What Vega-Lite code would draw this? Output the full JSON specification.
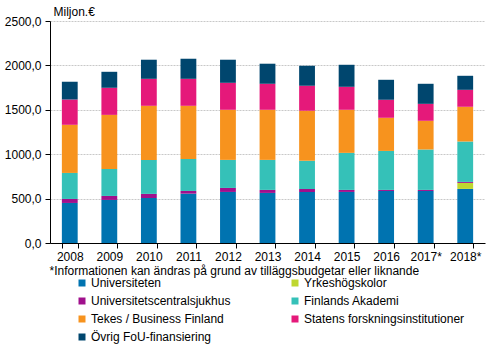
{
  "$schema": "https://vega.github.io/schema/vega-lite/v6.json",
  "width": 435,
  "height": 222,
  "padding": {"left": 50, "top": 21, "right": 7, "bottom": 108},
  "autosize": {"type": "none"},
  "config": {
    "font": "Liberation Sans",
    "view": {"stroke": null},
    "axis": {"labelFont": "Liberation Sans", "labelFontSize": 12, "labelColor": "#000", "titleFont": "Liberation Sans", "titleFontSize": 12, "titleFontWeight": "normal", "titleColor": "#000"},
    "legend": {"labelFont": "Liberation Sans", "labelFontSize": 12, "labelColor": "#000"}
  },
  "data": {"values": [
    {"year": "2008", "cat": "Universiteten", "v": 451},
    {"year": "2008", "cat": "Yrkeshögskolor", "v": 0},
    {"year": "2008", "cat": "Universitetscentralsjukhus", "v": 45},
    {"year": "2008", "cat": "Finlands Akademi", "v": 293},
    {"year": "2008", "cat": "Tekes / Business Finland", "v": 542},
    {"year": "2008", "cat": "Statens forskningsinstitutioner", "v": 285},
    {"year": "2008", "cat": "Övrig FoU-finansiering", "v": 200},
    {"year": "2009", "cat": "Universiteten", "v": 485},
    {"year": "2009", "cat": "Yrkeshögskolor", "v": 0},
    {"year": "2009", "cat": "Universitetscentralsjukhus", "v": 45},
    {"year": "2009", "cat": "Finlands Akademi", "v": 304},
    {"year": "2009", "cat": "Tekes / Business Finland", "v": 609},
    {"year": "2009", "cat": "Statens forskningsinstitutioner", "v": 305},
    {"year": "2009", "cat": "Övrig FoU-finansiering", "v": 180},
    {"year": "2010", "cat": "Universiteten", "v": 507},
    {"year": "2010", "cat": "Yrkeshögskolor", "v": 0},
    {"year": "2010", "cat": "Universitetscentralsjukhus", "v": 46},
    {"year": "2010", "cat": "Finlands Akademi", "v": 383},
    {"year": "2010", "cat": "Tekes / Business Finland", "v": 609},
    {"year": "2010", "cat": "Statens forskningsinstitutioner", "v": 304},
    {"year": "2010", "cat": "Övrig FoU-finansiering", "v": 215},
    {"year": "2011", "cat": "Universiteten", "v": 556},
    {"year": "2011", "cat": "Yrkeshögskolor", "v": 0},
    {"year": "2011", "cat": "Universitetscentralsjukhus", "v": 30},
    {"year": "2011", "cat": "Finlands Akademi", "v": 361},
    {"year": "2011", "cat": "Tekes / Business Finland", "v": 598},
    {"year": "2011", "cat": "Statens forskningsinstitutioner", "v": 304},
    {"year": "2011", "cat": "Övrig FoU-finansiering", "v": 226},
    {"year": "2012", "cat": "Universiteten", "v": 575},
    {"year": "2012", "cat": "Yrkeshögskolor", "v": 0},
    {"year": "2012", "cat": "Universitetscentralsjukhus", "v": 45},
    {"year": "2012", "cat": "Finlands Akademi", "v": 316},
    {"year": "2012", "cat": "Tekes / Business Finland", "v": 564},
    {"year": "2012", "cat": "Statens forskningsinstitutioner", "v": 304},
    {"year": "2012", "cat": "Övrig FoU-finansiering", "v": 260},
    {"year": "2013", "cat": "Universiteten", "v": 564},
    {"year": "2013", "cat": "Yrkeshögskolor", "v": 0},
    {"year": "2013", "cat": "Universitetscentralsjukhus", "v": 34},
    {"year": "2013", "cat": "Finlands Akademi", "v": 338},
    {"year": "2013", "cat": "Tekes / Business Finland", "v": 564},
    {"year": "2013", "cat": "Statens forskningsinstitutioner", "v": 293},
    {"year": "2013", "cat": "Övrig FoU-finansiering", "v": 226},
    {"year": "2014", "cat": "Universiteten", "v": 575},
    {"year": "2014", "cat": "Yrkeshögskolor", "v": 0},
    {"year": "2014", "cat": "Universitetscentralsjukhus", "v": 34},
    {"year": "2014", "cat": "Finlands Akademi", "v": 316},
    {"year": "2014", "cat": "Tekes / Business Finland", "v": 564},
    {"year": "2014", "cat": "Statens forskningsinstitutioner", "v": 281},
    {"year": "2014", "cat": "Övrig FoU-finansiering", "v": 226},
    {"year": "2015", "cat": "Universiteten", "v": 575},
    {"year": "2015", "cat": "Yrkeshögskolor", "v": 0},
    {"year": "2015", "cat": "Universitetscentralsjukhus", "v": 23},
    {"year": "2015", "cat": "Finlands Akademi", "v": 417},
    {"year": "2015", "cat": "Tekes / Business Finland", "v": 485},
    {"year": "2015", "cat": "Statens forskningsinstitutioner", "v": 259},
    {"year": "2015", "cat": "Övrig FoU-finansiering", "v": 248},
    {"year": "2016", "cat": "Universiteten", "v": 586},
    {"year": "2016", "cat": "Yrkeshögskolor", "v": 0},
    {"year": "2016", "cat": "Universitetscentralsjukhus", "v": 12},
    {"year": "2016", "cat": "Finlands Akademi", "v": 439},
    {"year": "2016", "cat": "Tekes / Business Finland", "v": 373},
    {"year": "2016", "cat": "Statens forskningsinstitutioner", "v": 203},
    {"year": "2016", "cat": "Övrig FoU-finansiering", "v": 225},
    {"year": "2017*", "cat": "Universiteten", "v": 586},
    {"year": "2017*", "cat": "Yrkeshögskolor", "v": 0},
    {"year": "2017*", "cat": "Universitetscentralsjukhus", "v": 12},
    {"year": "2017*", "cat": "Finlands Akademi", "v": 455},
    {"year": "2017*", "cat": "Tekes / Business Finland", "v": 323},
    {"year": "2017*", "cat": "Statens forskningsinstitutioner", "v": 191},
    {"year": "2017*", "cat": "Övrig FoU-finansiering", "v": 226},
    {"year": "2018*", "cat": "Universiteten", "v": 609},
    {"year": "2018*", "cat": "Yrkeshögskolor", "v": 68},
    {"year": "2018*", "cat": "Universitetscentralsjukhus", "v": 11},
    {"year": "2018*", "cat": "Finlands Akademi", "v": 455},
    {"year": "2018*", "cat": "Tekes / Business Finland", "v": 391},
    {"year": "2018*", "cat": "Statens forskningsinstitutioner", "v": 191},
    {"year": "2018*", "cat": "Övrig FoU-finansiering", "v": 158}
  ]},
  "transform": [
    {"calculate": "indexof(['Universiteten','Yrkeshögskolor','Universitetscentralsjukhus','Finlands Akademi','Tekes / Business Finland','Statens forskningsinstitutioner','Övrig FoU-finansiering'], datum.cat)", "as": "ord"}
  ],
  "mark": {"type": "bar"},
  "encoding": {
    "x": {
      "field": "year", "type": "nominal", "sort": null,
      "scale": {"paddingInner": 0.6, "paddingOuter": 0.3},
      "axis": {
        "labelAngle": 0, "domainColor": "#000", "tickColor": "#000", "tickBand": "extent", "tickSize": 5, "labelPadding": 3,
        "title": "*Informationen kan ändras på grund av tilläggsbudgetar eller liknande",
        "titleAnchor": null, "titleAlign": "left", "titleBaseline": "alphabetic", "titleX": -1, "titleY": 31
      }
    },
    "y": {
      "field": "v", "type": "quantitative", "stack": "zero",
      "scale": {"domain": [0, 2500]},
      "axis": {
        "values": [0, 500, 1000, 1500, 2000, 2500],
        "labelExpr": "replace(format(datum.value, '.1f'), '.', ',')",
        "domainColor": "#000", "tickColor": "#000", "tickSize": 5, "labelPadding": 4,
        "gridColor": "#c8c8c8", "gridDash": [2, 1],
        "title": "Miljon.€", "titleAngle": 0, "titleAnchor": null, "titleAlign": "left", "titleBaseline": "middle", "titleX": 3, "titleY": -10
      }
    },
    "color": {
      "field": "cat", "type": "nominal",
      "scale": {
        "domain": ["Universiteten", "Yrkeshögskolor", "Universitetscentralsjukhus", "Finlands Akademi", "Tekes / Business Finland", "Statens forskningsinstitutioner", "Övrig FoU-finansiering"],
        "range": ["#0073b0", "#bfd730", "#a0108c", "#35c1b8", "#f7931e", "#e5197a", "#00466e"]
      },
      "legend": {
        "title": null, "orient": "none", "direction": "horizontal", "legendX": 26, "legendY": 256, "columns": 2, "columnPadding": 58,
        "symbolType": "square", "symbolSize": 49, "symbolStrokeWidth": 0, "labelOffset": 3, "rowPadding": 6, "labelLimit": 300
      }
    },
    "order": {"field": "ord", "type": "quantitative"}
  }
}
